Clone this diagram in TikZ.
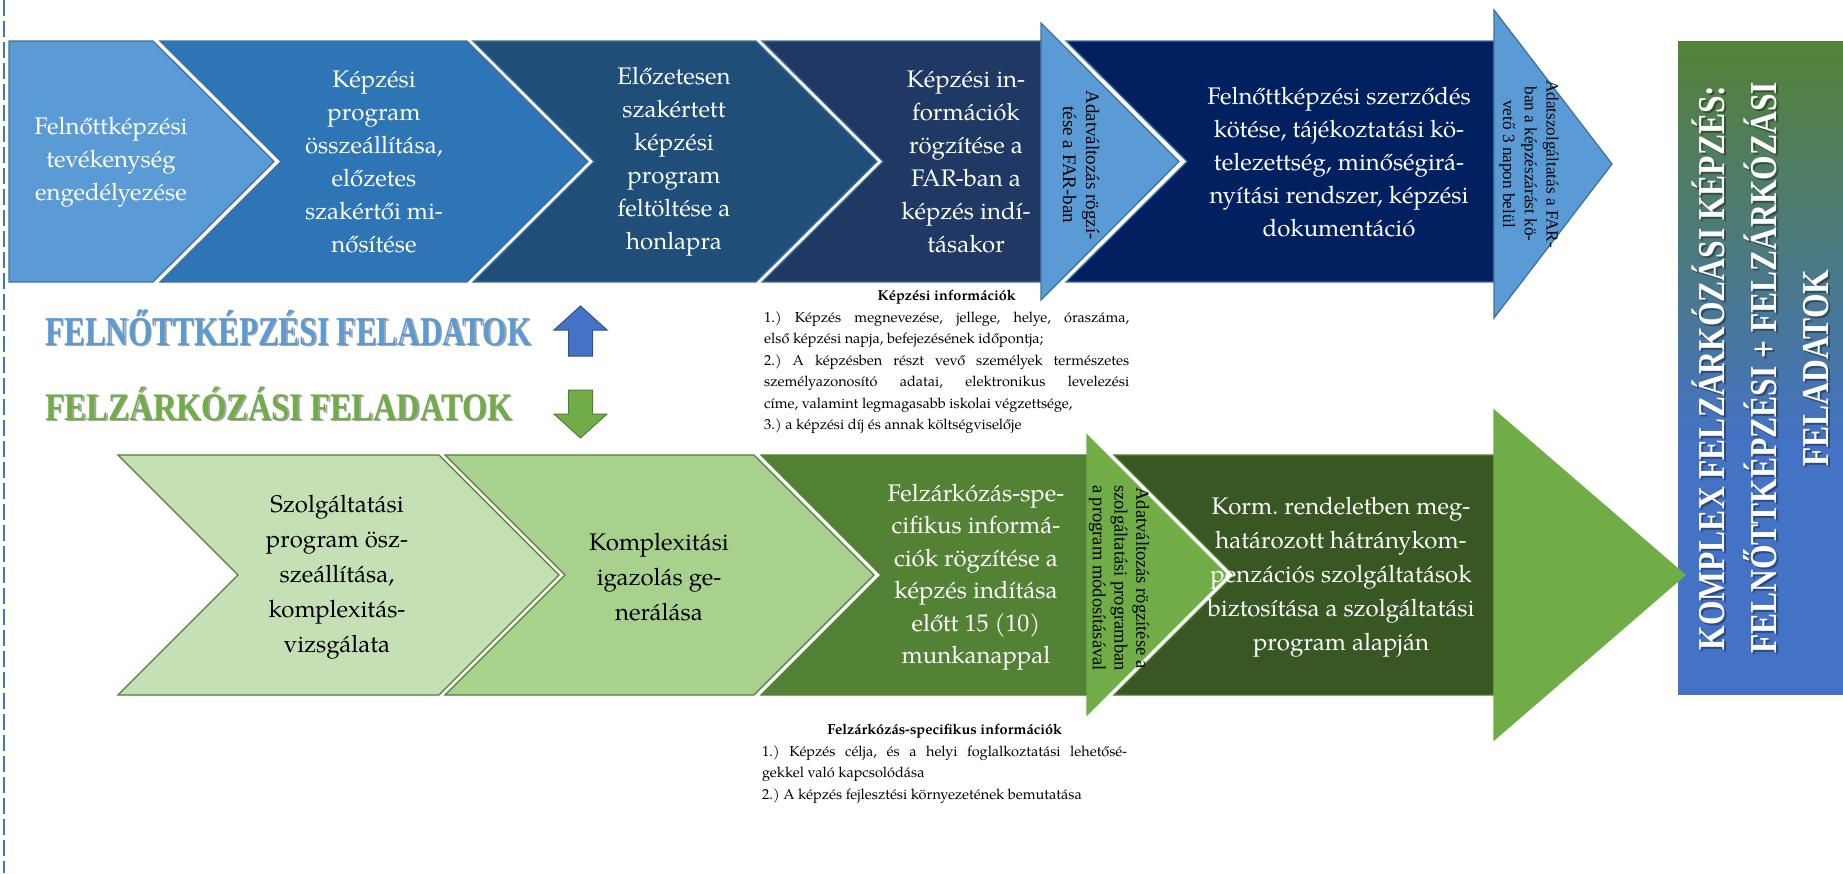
\documentclass[tikz,border=0pt]{standalone}
\usepackage{fontspec}
\setmainfont{TeX Gyre Pagella}
\newfontfamily\tms{Liberation Serif}
\usepackage{graphicx}
\definecolor{c1}{HTML}{5B9BD5}
\definecolor{c2}{HTML}{2E75B6}
\definecolor{c3}{HTML}{1F4E79}
\definecolor{c4}{HTML}{203864}
\definecolor{c5}{HTML}{002060}
\definecolor{bord}{HTML}{41719C}
\definecolor{g1}{HTML}{C5E0B4}
\definecolor{g2}{HTML}{A9D18E}
\definecolor{g3}{HTML}{548235}
\definecolor{g4}{HTML}{385723}
\definecolor{gt}{HTML}{70AD47}
\definecolor{gbord}{HTML}{507E32}
\definecolor{barblue}{HTML}{4472C4}
\definecolor{bargreen}{HTML}{548235}
\definecolor{arrbord}{HTML}{2F528F}
\tikzset{
  dashline/.style={draw=barblue, line width=1.5pt, dash pattern=on 16pt off 5pt},
  tshape/.style={draw=bord, line width=1.3pt, line join=miter},
  bshape/.style={draw=gbord, line width=1.3pt, line join=miter},
  toptxt/.style={align=center, text=white, inner sep=0pt, font=\fontsize{24}{33}\selectfont},
  bottxt/.style={align=center, text=black, inner sep=0pt, font=\fontsize{24}{35}\selectfont},
  rottxt/.style={align=center, text=black, inner sep=0pt, rotate=-90, font=\tms\fontsize{18.5}{21.7}\selectfont},
  headtxt/.style={anchor=base west, inner sep=0pt, font=\tms\bfseries\fontsize{41}{41}\selectfont},
  infotxt/.style={anchor=north west, inner sep=0pt, align=left, font=\frenchspacing\fontsize{14.5}{21.5}\selectfont},
  bartxt/.style={rotate=90, align=center, inner sep=0pt, font=\tms\bfseries\fontsize{38}{52}\selectfont},
}
\begin{document}
\frenchspacing
\begin{tikzpicture}[x=1pt,y=-1pt]
\useasboundingbox (0,0) rectangle (1843,873);
\fill[white] (0,0) rectangle (1843,873);
\draw[dashline] (4,0) -- (4,873);

% ---------- top row ----------
\def\T{41}\def\B{282}\def\M{161.5}
\filldraw[tshape, fill=c1] (9,\T) -- (153,\T) -- (274,\M) -- (153,\B) -- (9,\B) -- cycle;
\filldraw[tshape, fill=c2] (160,\T) -- (467,\T) -- (588,\M) -- (467,\B) -- (160,\B) -- (281,\M) -- cycle;
\filldraw[tshape, fill=c3] (473,\T) -- (756,\T) -- (877,\M) -- (756,\B) -- (473,\B) -- (594,\M) -- cycle;
\filldraw[tshape, fill=c4] (762,\T) -- (1041,\T) -- (1041,\B) -- (762,\B) -- (883,\M) -- cycle;
\filldraw[tshape, fill=c5] (1066,\T) -- (1494,\T) -- (1494,\B) -- (1066,\B) -- (1187,\M) -- cycle;
\filldraw[tshape, fill=c1] (1041,23) -- (1179,161.5) -- (1041,300) -- cycle;
\filldraw[tshape, fill=c1] (1494,10) -- (1612,164) -- (1494,318) -- cycle;

\node[toptxt] (t1) at (111,162) {Felnőttképzési\\tevékenység\\engedélyezése};
\node[toptxt] (t2) at (374,162) {Képzési\\program\\összeállítása,\\előzetes\\szakértői mi-\\nősítése};
\node[toptxt] (t3) at (674,162) {Előzetesen\\szakértett\\képzési\\program\\feltöltése a\\honlapra};
\node[toptxt] (t4) at (966,162) {Képzési in-\\formációk\\rögzítése a\\FAR-ban a\\képzés indí-\\tásakor};
\node[toptxt] (t5) at (1339,162) {Felnőttképzési szerződés\\kötése, tájékoztatási kö-\\telezettség, minőségirá-\\nyítási rendszer, képzési\\dokumentáció};
\node[rottxt, font=\tms\fontsize{19}{23}\selectfont] (r1) at (1081,165) {Adatváltozás rögzí-\\tése a FAR-ban};
\node[rottxt, font=\tms\fontsize{17.2}{21.7}\selectfont] (r2) at (1529,164) {Adatszolgáltatás a FAR-\\ban a képzészárást kö-\\vető 3 napon belül};

% ---------- right bar ----------
\shade[top color=bargreen, bottom color=barblue] (1678,41) rectangle (1843,440);
\fill[barblue] (1678,439.5) rectangle (1843,695);
\node[bartxt, text=black, opacity=.35] (barsh) at (1762,370) {\scalebox{.83}[1]{KOMPLEX FELZÁRKÓZÁSI KÉPZÉS:}\\\scalebox{.83}[1]{FELNŐTTKÉPZÉSI + FELZÁRKÓZÁSI}\\\scalebox{.83}[1]{FELADATOK}};
\node[bartxt, text=white] (bar) at (1760,368) {\scalebox{.83}[1]{KOMPLEX FELZÁRKÓZÁSI KÉPZÉS:}\\\scalebox{.83}[1]{FELNŐTTKÉPZÉSI + FELZÁRKÓZÁSI}\\\scalebox{.83}[1]{FELADATOK}};

% ---------- headings and arrows ----------
\node[headtxt, text=black, opacity=.35] (h1s) at (46.5,346.5) {\scalebox{0.76}[1]{FELNŐTTKÉPZÉSI FELADATOK}};
\node[headtxt, text=c1] (h1) at (45,345) {\scalebox{0.76}[1]{FELNŐTTKÉPZÉSI FELADATOK}};
\node[headtxt, text=black, opacity=.35, font=\tms\bfseries\fontsize{39}{39}\selectfont] (h2s) at (46.5,421.5) {\scalebox{0.83}[1]{FELZÁRKÓZÁSI FELADATOK}};
\node[headtxt, text=gt, font=\tms\bfseries\fontsize{39}{39}\selectfont] (h2) at (45,420) {\scalebox{0.83}[1]{FELZÁRKÓZÁSI FELADATOK}};

\filldraw[fill=barblue, draw=arrbord, line width=1pt] (554,330) -- (580.5,306) -- (607,330) -- (592.5,330) -- (592.5,356) -- (568.5,356) -- (568.5,330) -- cycle;
\filldraw[fill=gt, draw=gbord, line width=1pt] (568.5,390) -- (592.5,390) -- (592.5,414) -- (607,414) -- (580.5,438) -- (554,414) -- (568.5,414) -- cycle;

% ---------- information blocks ----------
\node[infotxt] (info1) at (764,290) {%
\makebox[365pt][c]{\bfseries Képzési információk}\\
\makebox[365pt][s]{1.) Képzés megnevezése, jellege, helye, óraszáma,}\\
\makebox[365pt][l]{első képzési napja, befejezésének időpontja;}\\
\makebox[365pt][s]{2.) A képzésben részt vevő személyek természetes}\\
\makebox[365pt][s]{személyazonosító adatai, elektronikus levelezési}\\
\makebox[365pt][l]{címe, valamint legmagasabb iskolai végzettsége,}\\
\makebox[365pt][l]{3.) a képzési díj és annak költségviselője}};

\node[infotxt] (info2) at (762,724) {%
\makebox[365pt][c]{\bfseries Felzárkózás-specifikus információk}\\
\makebox[365pt][s]{1.) Képzés célja, és a helyi foglalkoztatási lehetősé-}\\
\makebox[365pt][l]{gekkel való kapcsolódása}\\
\makebox[365pt][l]{2.) A képzés fejlesztési környezetének bemutatása}};

% ---------- bottom row ----------
\def\Tb{455}\def\Bb{695}\def\Mb{575}
\filldraw[bshape, fill=g1] (118,\Tb) -- (439,\Tb) -- (559,\Mb) -- (439,\Bb) -- (118,\Bb) -- (238,\Mb) -- cycle;
\filldraw[bshape, fill=g2] (445,\Tb) -- (754,\Tb) -- (874,\Mb) -- (754,\Bb) -- (445,\Bb) -- (565,\Mb) -- cycle;
\filldraw[bshape, fill=g3] (761,\Tb) -- (1087,\Tb) -- (1087,\Bb) -- (761,\Bb) -- (881,\Mb) -- cycle;
\filldraw[bshape, fill=g4] (1114,\Tb) -- (1494,\Tb) -- (1494,\Bb) -- (1114,\Bb) -- (1234,\Mb) -- cycle;
\filldraw[bshape, draw=gt, fill=gt] (1087,435) -- (1227,575) -- (1087,715) -- cycle;
\filldraw[bshape, draw=gt, fill=gt] (1494,410) -- (1685,575) -- (1494,740) -- cycle;

\node[bottxt] (u1) at (337,577) {Szolgáltatási\\program ösz-\\szeállítása,\\komplexitás-\\vizsgálata};
\node[bottxt] (u2) at (659,577) {Komplexitási\\igazolás ge-\\nerálása};
\node[bottxt, text=white, font=\fontsize{24}{32.5}\selectfont] (u3) at (976,577) {Felzárkózás-spe-\\cifikus informá-\\ciók rögzítése a\\képzés indítása\\előtt 15 (10)\\munkanappal};
\node[bottxt, text=white, font=\fontsize{24}{34}\selectfont] (u4) at (1341,577) {Korm. rendeletben meg-\\határozott hátránykom-\\penzációs szolgáltatások\\biztosítása a szolgáltatási\\program alapján};
\node[rottxt] (r3) at (1119,578) {Adatváltozás rögzítése a\\szolgáltatási programban\\a program módosításával};
\end{tikzpicture}
\end{document}
